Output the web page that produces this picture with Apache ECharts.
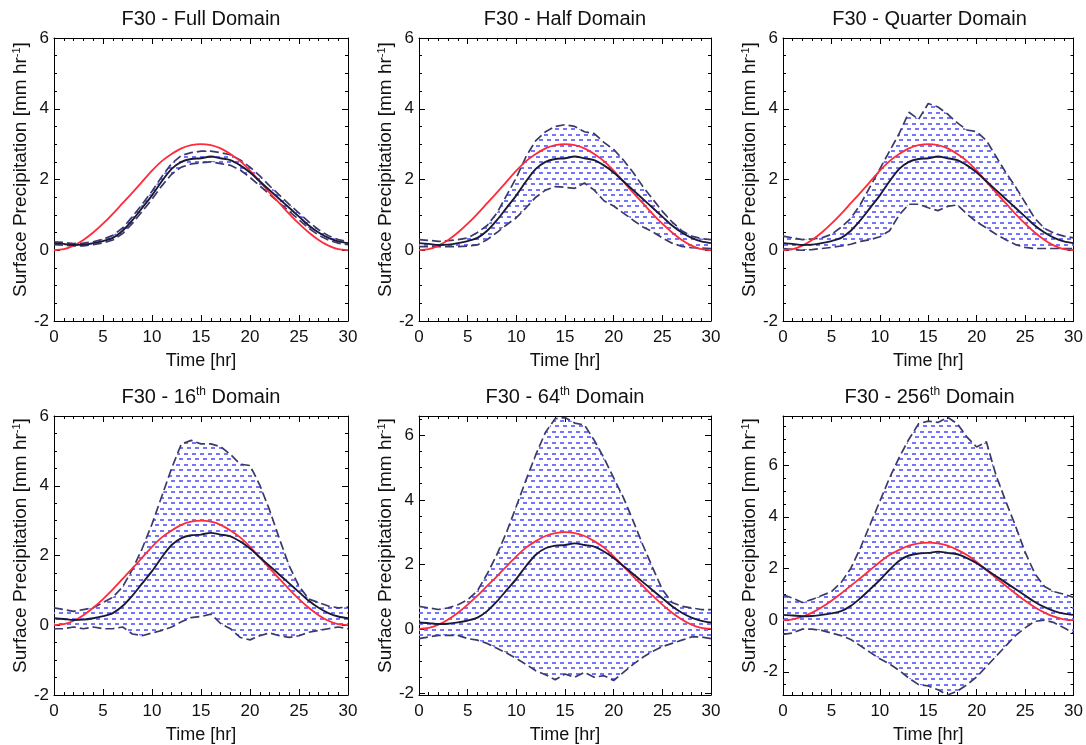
<!DOCTYPE html>
<html><head><meta charset="utf-8">
<script src="https://cdn.jsdelivr.net/npm/echarts@6/dist/echarts.min.js"></script>
<style>html,body{margin:0;padding:0;background:#fff}#c{width:1086px;height:745px}</style>
</head><body><div id="c"></div>
<script>
// ---------- data ----------
const HOURS = [0,1,2,3,4,5,6,7,8,9,10,11,12,13,14,15,16,17,18,19,20,21,22,23,24,25,26,27,28,29,30];
const X_TICKS = [0,5,10,15,20,25,30];
const TITLES = [['F30 - Full Domain',''],['F30 - Half Domain',''],['F30 - Quarter Domain',''],['F30 - 16','th'],['F30 - 64','th'],['F30 - 256','th']];
const Y_MIN = [-2,-2,-2,-2,-2.05,-2.9];
const Y_MAX = [6,6,6,6,6.6,7.9];

// prescribed (red) and ensemble mean (black)
const CONTROL = [0.00,0.03,0.13,0.29,0.50,0.75,1.03,1.33,1.63,1.94,2.25,2.52,2.72,2.88,2.97,3.00,2.97,2.88,2.72,2.52,2.25,1.94,1.63,1.33,1.03,0.75,0.50,0.29,0.13,0.03,0.00];
const MEAN = [0.20,0.18,0.15,0.16,0.20,0.26,0.35,0.55,0.85,1.20,1.55,1.95,2.30,2.50,2.58,2.60,2.65,2.60,2.55,2.40,2.20,1.95,1.70,1.45,1.20,0.95,0.70,0.50,0.35,0.25,0.20];

// envelopes (max / min over ensemble)
const UP_FULL = [0.24,0.22,0.19,0.20,0.24,0.31,0.42,0.63,0.95,1.30,1.67,2.08,2.45,2.68,2.76,2.80,2.80,2.76,2.70,2.55,2.35,2.10,1.82,1.56,1.30,1.05,0.80,0.58,0.41,0.30,0.24];
const LO_FULL = [0.16,0.14,0.12,0.12,0.16,0.21,0.29,0.47,0.76,1.10,1.44,1.82,2.15,2.35,2.44,2.47,2.50,2.45,2.40,2.27,2.06,1.82,1.58,1.34,1.10,0.86,0.62,0.43,0.29,0.20,0.16];
const UP_HALF = [0.30,0.28,0.25,0.27,0.30,0.35,0.50,0.70,1.05,1.55,2.05,2.65,3.10,3.35,3.50,3.55,3.50,3.35,3.30,3.05,2.85,2.55,2.20,1.80,1.45,1.10,0.80,0.55,0.40,0.33,0.30];
const LO_HALF = [0.10,0.10,0.10,0.10,0.10,0.12,0.15,0.30,0.50,0.72,0.92,1.20,1.50,1.70,1.80,1.78,1.75,1.90,1.70,1.40,1.25,1.05,0.85,0.66,0.52,0.35,0.20,0.11,0.07,0.06,0.05];
const UP_QUARTER = [0.40,0.35,0.30,0.32,0.35,0.45,0.65,0.90,1.30,1.80,2.30,2.80,3.30,3.90,3.70,4.15,4.05,3.85,3.60,3.40,3.35,3.10,2.65,2.20,1.80,1.35,0.90,0.62,0.48,0.40,0.35];
const LO_QUARTER = [0.05,0.02,0.00,0.02,0.05,0.08,0.12,0.17,0.25,0.30,0.38,0.55,1.00,1.30,1.30,1.20,1.12,1.24,1.28,1.02,0.80,0.63,0.45,0.30,0.16,0.08,0.05,0.05,0.05,0.05,0.05];
const UP_16 = [0.50,0.45,0.40,0.45,0.50,0.65,0.80,1.10,1.60,2.20,2.90,3.70,4.50,5.20,5.30,5.20,5.20,5.12,4.90,4.62,4.58,4.02,3.30,2.48,1.70,1.12,0.75,0.65,0.55,0.50,0.52];
const LO_16 = [-0.10,-0.10,-0.05,-0.10,-0.05,-0.10,-0.10,-0.05,-0.25,-0.30,-0.22,-0.15,-0.05,0.10,0.22,0.25,0.32,0.05,-0.10,-0.35,-0.42,-0.30,-0.22,-0.30,-0.35,-0.30,-0.20,-0.15,-0.10,-0.05,-0.10];
const UP_64 = [0.70,0.65,0.60,0.65,0.75,0.90,1.18,1.70,2.30,3.00,3.80,4.62,5.40,6.10,6.52,6.55,6.38,6.32,5.85,5.30,4.68,4.07,3.35,2.60,1.90,1.22,0.82,0.70,0.65,0.60,0.60];
const LO_64 = [-0.30,-0.25,-0.20,-0.20,-0.20,-0.30,-0.35,-0.45,-0.60,-0.75,-0.92,-1.10,-1.30,-1.42,-1.58,-1.40,-1.50,-1.35,-1.50,-1.45,-1.60,-1.35,-1.10,-0.88,-0.70,-0.55,-0.45,-0.35,-0.25,-0.25,-0.30];
const UP_256 = [0.98,0.85,0.68,0.80,0.95,1.10,1.45,2.00,2.80,3.70,4.60,5.50,6.30,7.00,7.60,7.70,7.65,7.85,7.60,7.08,6.70,6.90,5.60,4.60,3.65,2.63,1.80,1.30,1.10,1.00,0.88];
const LO_256 = [-0.55,-0.50,-0.35,-0.35,-0.40,-0.50,-0.60,-0.75,-1.00,-1.25,-1.50,-1.70,-1.95,-2.25,-2.50,-2.55,-2.70,-2.90,-2.75,-2.50,-2.20,-1.80,-1.40,-1.00,-0.60,-0.30,-0.05,0.00,-0.10,-0.30,-0.50];

const UPPER = [UP_FULL, UP_HALF, UP_QUARTER, UP_16, UP_64, UP_256];
const LOWER = [LO_FULL, LO_HALF, LO_QUARTER, LO_16, LO_64, LO_256];

// ---------- layout / style ----------
const FONT = '"Liberation Sans", Arial, Helvetica, sans-serif';
const GRIDS = [
  {left:54, top:38, width:294, height:283},
  {left:419, top:38, width:292, height:283},
  {left:783, top:38, width:293, height:283},
  {left:54, top:416, width:294, height:283},
  {left:419, top:416, width:292, height:283},
  {left:783, top:416, width:293, height:283}
];

// hatch pattern (rows of short blue dashes, staggered)
const pc = document.createElement('canvas');
pc.width = 8; pc.height = 11;
const g = pc.getContext('2d');
g.fillStyle = '#7474ff';
g.fillRect(0, 2, 4, 2);
g.fillRect(3, 7, 4, 2);

const pairs = arr => HOURS.map((t, i) => [t, arr[i]]);
const black = '#000';

const option = {
  animation: false,
  backgroundColor: '#fff',
  textStyle: {fontFamily: FONT},
  title: [], grid: [], xAxis: [], yAxis: [], series: []
};

GRIDS.forEach((gr, i) => {
  option.grid.push(Object.assign({containLabel: false, show: false}, gr));
  option.title.push({
    text: TITLES[i][1] ? TITLES[i][0] + '{sup|' + TITLES[i][1] + '} Domain' : TITLES[i][0],
    left: gr.left + gr.width / 2,
    top: gr.top - 30,
    textAlign: 'center',
    padding: 0,
    textStyle: {fontSize: 20, fontWeight: 'normal', color: '#111', fontFamily: FONT, lineHeight: 22,
      rich: {sup: {fontSize: 12, verticalAlign: 'top', lineHeight: 12, color: '#111', fontFamily: FONT}}}
  });
  const tickCommon = {
    axisLine: {show: true, onZero: false, lineStyle: {color: black, width: 1}},
    axisTick: {show: true, inside: true, length: 6, lineStyle: {color: black, width: 1}},
    splitLine: {show: false}
  };
  const xTick = {show: true, splitNumber: 5, length: 3, lineStyle: {color: black, width: 1}};
  option.xAxis.push(Object.assign({
    gridIndex: i, type: 'value', min: HOURS[0], max: HOURS[HOURS.length - 1], interval: X_TICKS[1] - X_TICKS[0],
    position: 'bottom', minorTick: xTick,
    axisLabel: {fontSize: 17, color: '#111', margin: 8, fontFamily: FONT},
    name: 'Time [hr]', nameLocation: 'middle', nameGap: 31,
    nameTextStyle: {fontSize: 18, color: '#111', fontFamily: FONT}
  }, tickCommon));
  option.xAxis.push(Object.assign({
    gridIndex: i, type: 'value', min: HOURS[0], max: HOURS[HOURS.length - 1], interval: X_TICKS[1] - X_TICKS[0],
    position: 'top', minorTick: xTick, axisLabel: {show: false}
  }, tickCommon));
  const yInt = (Y_MIN[i] % 2 === 0) ? {interval: 2} : {splitNumber: 5};
  const yTick = {show: true, splitNumber: 4, length: 3, lineStyle: {color: black, width: 1}};
  option.yAxis.push(Object.assign({
    gridIndex: i, type: 'value', min: Y_MIN[i], max: Y_MAX[i], position: 'left', minorTick: yTick,
    axisLabel: {fontSize: 17, color: '#111', margin: 5, fontFamily: FONT,
      formatter: v => (Math.abs(v % 2) < 1e-9 ? String(Math.round(v)) : '')},
    name: 'Surface Precipitation [mm hr{sup|-1}]', nameLocation: 'middle', nameGap: 24, nameRotate: 90,
    nameTextStyle: {fontSize: 19, color: '#111', fontFamily: FONT, padding: [0, 0, 0, 20],
      rich: {sup: {fontSize: 11, verticalAlign: 'top', color: '#111', fontFamily: FONT}}}
  }, yInt, tickCommon));
  option.yAxis.push(Object.assign({
    gridIndex: i, type: 'value', min: Y_MIN[i], max: Y_MAX[i], position: 'right', minorTick: yTick,
    axisLabel: {show: false}
  }, yInt, tickCommon));

  const xi = 2 * i, yi = 2 * i;
  const up = UPPER[i], lo = LOWER[i];
  // hatched band between the two envelopes
  option.series.push({
    type: 'custom', xAxisIndex: xi, yAxisIndex: yi, silent: true, z: 1, clip: true,
    data: [[HOURS[0], up[0]]],
    renderItem: (params, api) => {
      const top = HOURS.map((t, k) => api.coord([t, up[k]]));
      const bot = HOURS.map((t, k) => api.coord([t, lo[k]])).reverse();
      return {type: 'polygon', shape: {points: top.concat(bot)},
        style: {fill: {image: pc, repeat: 'repeat'}, stroke: null}};
    }
  });
  [up, lo].forEach(arr => option.series.push({
    type: 'line', xAxisIndex: xi, yAxisIndex: yi, data: pairs(arr), symbol: 'none',
    lineStyle: {color: '#3a3a6a', width: 1.7, type: [9, 4]}, z: 2
  }));
  option.series.push({
    type: 'line', xAxisIndex: xi, yAxisIndex: yi, data: pairs(CONTROL), symbol: 'none', smooth: 0.3,
    lineStyle: {color: '#ff2a3a', width: 1.8}, z: 3
  });
  option.series.push({
    type: 'line', xAxisIndex: xi, yAxisIndex: yi, data: pairs(MEAN), symbol: 'none', smooth: 0.3,
    lineStyle: {color: '#1a1a38', width: 1.9}, z: 4
  });
});

const chart = echarts.init(document.getElementById('c'), null, {renderer: 'canvas'});
chart.setOption(option);
</script></body></html>
